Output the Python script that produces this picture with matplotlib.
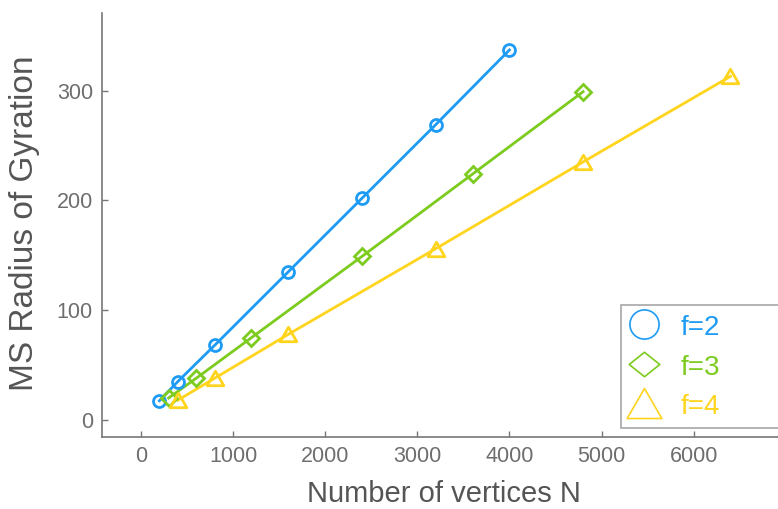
import matplotlib
matplotlib.use("Agg")
import matplotlib.pyplot as plt
from matplotlib.lines import Line2D
from matplotlib.path import Path

# Mean-square radius of gyration vs. number of vertices for star polymers with f arms
n_f2 = [200, 400, 800, 1600, 2400, 3200, 4000]
rg_f2 = [17.5, 35, 68, 135, 202, 269, 337]

n_f3 = [300, 600, 1200, 2400, 3600, 4800]
rg_f3 = [20, 38, 75, 149, 224, 299]

n_f4 = [400, 800, 1600, 3200, 4800, 6400]
rg_f4 = [18, 38, 78, 156, 235, 313]

series_labels = ["f=2", "f=3", "f=4"]
x_ticks = [0, 1000, 2000, 3000, 4000, 5000, 6000]
y_ticks = [0, 100, 200, 300]

colors = ["#1E9BF5", "#7CCB1E", "#FFD41C"]
tick_gray = "#6E6E6E"
label_gray = "#555555"
axis_gray = "#777777"

plt.rcParams["font.family"] = ["Liberation Sans", "DejaVu Sans"]

# squat diamond and equilateral triangle used for the legend keys
squat_diamond = Path([(-1, 0), (0, 0.8), (1, 0), (0, -0.8), (-1, 0)],
                     [Path.MOVETO, Path.LINETO, Path.LINETO, Path.LINETO, Path.CLOSEPOLY])
tri = Path([(0, 0.866), (-1, -0.866), (1, -0.866), (0, 0.866)],
           [Path.MOVETO, Path.LINETO, Path.LINETO, Path.CLOSEPOLY])

fig = plt.figure(figsize=(7.78, 5.09), dpi=100)
ax = fig.add_axes([0.1311, 0.1415, 0.8689, 0.833])

data = [(n_f2, rg_f2), (n_f3, rg_f3), (n_f4, rg_f4)]
plot_markers = ["o", "D", tri]
plot_ms = [8.6, 8.0, 12.0]
for (xs, ys), c, m, ms in zip(data, colors, plot_markers, plot_ms):
    ax.plot(xs, ys, color=c, lw=2.0, zorder=2)
    ax.plot(xs, ys, ls="none", marker=m, ms=ms, mfc="none", mec=c, mew=2.0, zorder=3)

ax.set_xlim(-423, 6916)
ax.set_ylim(-15.5, 370.7)
ax.set_xticks(x_ticks)
ax.set_yticks(y_ticks)

for side in ("top", "right"):
    ax.spines[side].set_visible(False)
for side in ("left", "bottom"):
    ax.spines[side].set_color(axis_gray)
    ax.spines[side].set_linewidth(1.2)

ax.tick_params(direction="in", length=4.5, width=1.0, color=axis_gray,
               labelcolor=tick_gray, labelsize=15.5, pad=6.5)

ax.set_xlabel("Number of vertices N", fontsize=21, color=label_gray)
ax.set_ylabel("MS Radius of Gyration", fontsize=24, color=label_gray)
ax.xaxis.set_label_coords(0.506, -0.101)
ax.yaxis.set_label_coords(-0.092, 0.505)

legend_markers = ["o", squat_diamond, tri]
legend_ms = [21, 22, 25]
handles = [Line2D([], [], ls="none", marker=m, ms=s, mfc="none", mec=c, mew=1.2)
           for m, c, s in zip(legend_markers, colors, legend_ms)]
fs = 20
leg = ax.legend(handles, series_labels, loc="upper left", mode="expand",
                bbox_to_anchor=(620.5 / 778, (509 - 427) / 509, 200 / 778, 122 / 509),
                bbox_transform=fig.transFigure,
                frameon=True, fancybox=False, edgecolor="#9A9A9A",
                prop={"size": fs}, borderpad=0.29, labelspacing=0.42,
                handlelength=1.08, handleheight=1.0, handletextpad=0.8,
                borderaxespad=0)
leg.get_frame().set_linewidth(1.3)
for t, c in zip(leg.get_texts(), colors):
    t.set_color(c)

fig.savefig("out.png", dpi=100)
